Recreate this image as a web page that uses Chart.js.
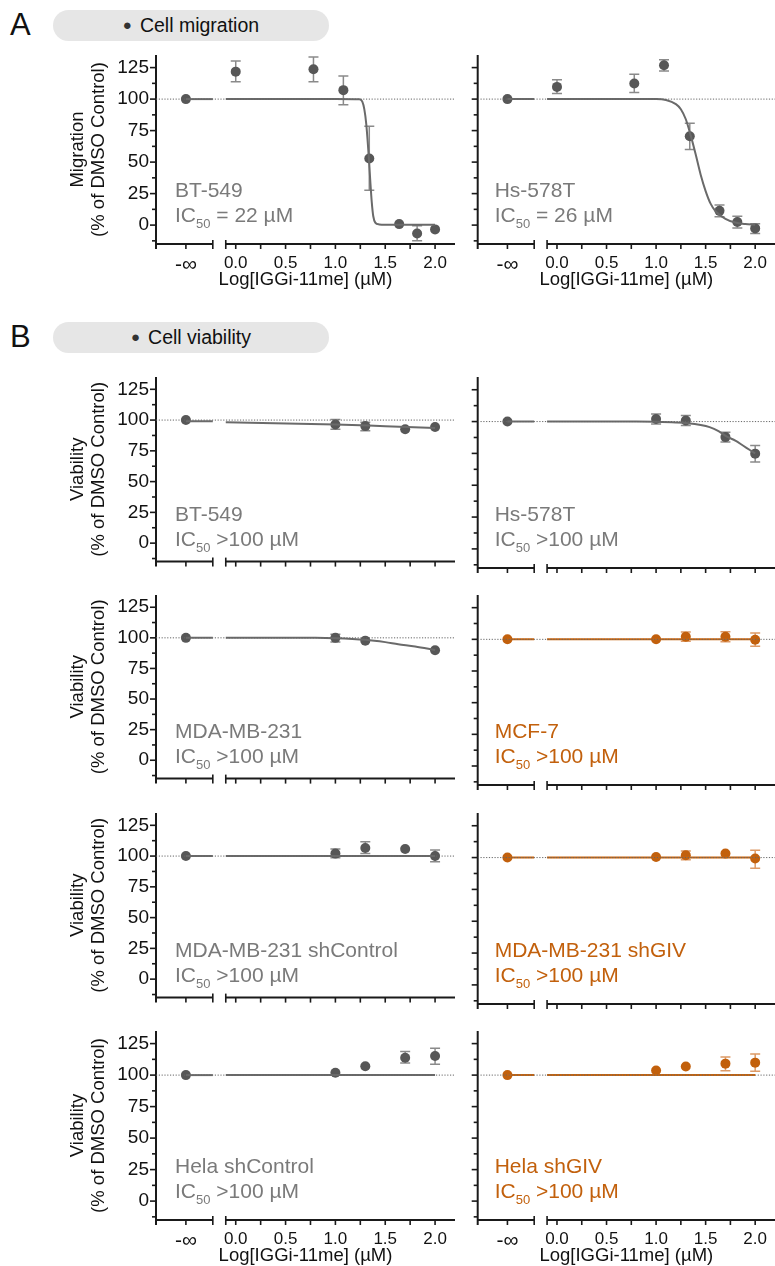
<!DOCTYPE html>
<html>
<head>
<meta charset="utf-8">
<script src="https://cdn.jsdelivr.net/npm/chart.js@4.4.1/dist/chart.umd.min.js"></script>
<style>
  html, body { margin: 0; padding: 0; background: #fff; }
  #page { position: relative; width: 775px; height: 1266px; overflow: hidden; font-family: "Liberation Sans", Arial, sans-serif; }
  #page canvas { position: absolute; }
  .tag { position: absolute; left: 10px; font-size: 31px; line-height: 34px; color: #111; }
  .pill { position: absolute; left: 53px; width: 276px; height: 31px; border-radius: 16px; background: #e6e6e6;
          font-size: 19.5px; line-height: 31px; text-align: center; color: #111; }
  .pill .dot { font-size: 15px; margin-right: 8px; position: relative; top: -2px; color: #333; }
  .cell { position: absolute; font-size: 21px; line-height: 25px; color: #7a7a7a; white-space: nowrap; }
  .cell.orange { color: #c2600c; }
  .cell .sub { font-size: 13px; position: relative; top: 6px; }
</style>
</head>
<body>
<div id="page">
  <div class="tag" style="top:8px">A</div>
  <div class="pill" style="top:10px"><span class="dot">●</span>Cell migration</div>
  <div class="tag" style="top:320px">B</div>
  <div class="pill" style="top:322px"><span class="dot">●</span>Cell viability</div>
</div>
<script>
// --- AXES ---
const X_MIN = -0.8;
const X_MAX = 2.2;
const NEG_INF_AT = -0.5;          // where the "-∞" dose sits on the x axis
const X_SEGMENTS = [[-0.8, -0.23], [-0.1, 2.2]];
const xLabelTicks = [-0.5, 0, 0.5, 1, 1.5, 2];
const xMinorTicks = [0.25, 0.75, 1.25, 1.75];
const Y_MIN = -15;
const Y_MAX = 135;
const yMajorTicks = [0, 25, 50, 75, 100, 125];
const yMinorTicks = [-12.5, 12.5, 37.5, 62.5, 87.5, 112.5];
const REF_LEVEL = 100;

// --- DOSES (log µM) ---
const migDoses = [-Infinity, 0.0, 0.78, 1.08, 1.34, 1.64, 1.82, 2.0];
const viaDoses = [-Infinity, 1.0, 1.3, 1.7, 2.0];

// --- A: migration ---
const bt549Mig   = [100, 121.8, 123.7, 107.1, 52.9, 0.8, -6.6, -3.4];
const bt549MigLo = [null, 113.7, 113.7, 95.5, 27.6, null, -12.4, null];
const bt549MigHi = [null, 130.3, 133.4, 118.4, 78.4, null, -0.5, null];
const bt549MigFitX = [-0.1, 1.0, 1.24, 1.27, 1.29, 1.31, 1.336, 1.35, 1.365, 1.38, 1.4, 1.44, 1.5, 2.0];
const bt549MigFitY = [100, 100, 99.8, 98, 92, 80, 53, 35, 18, 7, 2, 0.5, 0.2, 0.2];

const hs578tMig   = [100, 109.7, 112.4, 126.8, 70.5, 11.3, 2.4, -2.6];
const hs578tMigLo = [null, 104.5, 105.3, 122.4, 60, 6.6, -2.4, -6.6];
const hs578tMigHi = [null, 115.3, 119.7, 131.3, 80.8, 16, 7.1, 1];
const hs578tMigFitX = [-0.1, 1.0, 1.1, 1.2, 1.25, 1.3, 1.35, 1.4, 1.45, 1.5, 1.55, 1.6, 1.7, 1.8, 1.9, 2.0];
const hs578tMigFitY = [100, 100, 99.3, 96, 92, 84, 71, 56, 40, 27, 17, 11, 5, 2, 0.8, 0.3];

// --- B: viability ---
const bt549Via   = [100, 96.4, 95.1, 92.5, 94.3];
const bt549ViaLo = [null, 92.5, 91.4, null, null];
const bt549ViaHi = [null, 100.5, 98.2, null, null];
const bt549ViaFitX = [-0.1, 1.0, 1.5, 2.0];
const bt549ViaFitY = [98.2, 96.5, 95, 93.5];

const hs578tVia   = [100, 102, 100.8, 87.8, 74.8];
const hs578tViaLo = [null, 98, 96.9, 84, 68.3];
const hs578tViaHi = [null, 106, 104.7, 91.7, 81.3];
const hs578tViaFitX = [-0.1, 0.8, 1.0, 1.2, 1.32, 1.45, 1.54, 1.63, 1.72, 1.8, 1.88, 1.95, 2.0];
const hs578tViaFitY = [100, 100, 99.8, 99.3, 98.7, 97.3, 95.6, 92.5, 88, 85, 81, 77.5, 75];

const mda231Via   = [100, 100, 97.7, null, 89.9];
const mda231ViaLo = [null, 96.6, null, null, null];
const mda231ViaHi = [null, 103, null, null, null];
const mda231ViaFitX = [-0.1, 0.8, 1.0, 1.3, 1.5, 1.63, 1.8, 2.0];
const mda231ViaFitY = [100, 100, 99.7, 98.4, 96.5, 94.8, 93, 90];

const mcf7Via   = [100, 100, 102, 102, 99.7];
const mcf7ViaLo = [null, null, 98.4, 98, 94.6];
const mcf7ViaHi = [null, null, 105.7, 106, 105];

const mdaShCtrlVia   = [100, 102, 106.5, 105.7, 100];
const mdaShCtrlViaLo = [null, 98.7, 102, null, 95.3];
const mdaShCtrlViaHi = [null, 105.7, 111.7, null, 105];

const mdaShGivVia   = [100, 100.5, 101.8, 103.1, 99.2];
const mdaShGivViaLo = [null, null, 98.2, null, 91.7];
const mdaShGivViaHi = [null, null, 105.2, null, 105.7];

const helaShCtrlVia   = [100, 101.8, 107, 113.8, 115.1];
const helaShCtrlViaLo = [null, null, null, 109.7, 108.6];
const helaShCtrlViaHi = [null, null, null, 118.8, 121.4];

const helaShGivVia   = [100, 103.7, 106.8, 109.1, 109.9];
const helaShGivViaLo = [null, null, null, 103.4, 103.1];
const helaShGivViaHi = [null, null, null, 114.4, 116.7];

const flatFitX = [-0.1, 2.0];
const flatFitY = [100, 100];

// --- STYLE ---
const FONT = '"Liberation Sans", Arial, sans-serif';
const GRAY = { point: "#575757", line: "#6a6a6a", err: "#8a8a8a" };
const ORANGE = { point: "#c2600c", line: "#c8650f", err: "#dd9a66" };
const AXIS_COLOR = "#1a1a1a";

// row: [plot top, plot bottom] in page pixels
const rowBounds = [[55, 244], [377, 568], [595, 785], [813, 1004], [1031, 1220]];
const colLeft = [0, 380];         // canvas left
const colYAxisWidth = [156, 97.7];
const colCanvasWidth = [460, 400];
const PAD_TOP = 30;

const panels = [
  { row: 0, col: 0, yTitle: "Migration", doses: migDoses, y: bt549Mig, lo: bt549MigLo, hi: bt549MigHi, fitX: bt549MigFitX, fitY: bt549MigFitY, infFit: 100, c: GRAY, name: "BT-549", ic: "= 22 µM" },
  { row: 0, col: 1, doses: migDoses, y: hs578tMig, lo: hs578tMigLo, hi: hs578tMigHi, fitX: hs578tMigFitX, fitY: hs578tMigFitY, infFit: 100, c: GRAY, name: "Hs-578T", ic: "= 26 µM" },
  { row: 1, col: 0, yTitle: "Viability", doses: viaDoses, y: bt549Via, lo: bt549ViaLo, hi: bt549ViaHi, fitX: bt549ViaFitX, fitY: bt549ViaFitY, infFit: 99, c: GRAY, name: "BT-549", ic: ">100 µM" },
  { row: 1, col: 1, doses: viaDoses, y: hs578tVia, lo: hs578tViaLo, hi: hs578tViaHi, fitX: hs578tViaFitX, fitY: hs578tViaFitY, infFit: 100, c: GRAY, name: "Hs-578T", ic: ">100 µM" },
  { row: 2, col: 0, yTitle: "Viability", doses: viaDoses, y: mda231Via, lo: mda231ViaLo, hi: mda231ViaHi, fitX: mda231ViaFitX, fitY: mda231ViaFitY, infFit: 100, c: GRAY, name: "MDA-MB-231", ic: ">100 µM" },
  { row: 2, col: 1, doses: viaDoses, y: mcf7Via, lo: mcf7ViaLo, hi: mcf7ViaHi, fitX: flatFitX, fitY: flatFitY, infFit: 100, c: ORANGE, name: "MCF-7", ic: ">100 µM" },
  { row: 3, col: 0, yTitle: "Viability", doses: viaDoses, y: mdaShCtrlVia, lo: mdaShCtrlViaLo, hi: mdaShCtrlViaHi, fitX: flatFitX, fitY: flatFitY, infFit: 100, c: GRAY, name: "MDA-MB-231 shControl", ic: ">100 µM" },
  { row: 3, col: 1, doses: viaDoses, y: mdaShGivVia, lo: mdaShGivViaLo, hi: mdaShGivViaHi, fitX: flatFitX, fitY: flatFitY, infFit: 100, c: ORANGE, name: "MDA-MB-231 shGIV", ic: ">100 µM" },
  { row: 4, col: 0, yTitle: "Viability", doses: viaDoses, y: helaShCtrlVia, lo: helaShCtrlViaLo, hi: helaShCtrlViaHi, fitX: flatFitX, fitY: flatFitY, infFit: 100, c: GRAY, name: "Hela shControl", ic: ">100 µM" },
  { row: 4, col: 1, doses: viaDoses, y: helaShGivVia, lo: helaShGivViaLo, hi: helaShGivViaHi, fitX: flatFitX, fitY: flatFitY, infFit: 100, c: ORANGE, name: "Hela shGIV", ic: ">100 µM" },
];
const labelledRows = [0, 4];

const doseToAxis = (d) => (d === -Infinity ? NEG_INF_AT : d);

// --- PLUGINS ---
const brokenAxes = {
  id: "brokenAxes",
  beforeDatasetsDraw(chart) {
    const { ctx, chartArea: a, scales: { x, y } } = chart;
    const line = (x1, y1, x2, y2) => { ctx.beginPath(); ctx.moveTo(x1, y1); ctx.lineTo(x2, y2); ctx.stroke(); };
    ctx.save();
    ctx.strokeStyle = AXIS_COLOR;
    ctx.lineWidth = 2;
    line(a.left, a.top, a.left, a.bottom + 5);
    X_SEGMENTS.forEach(([s, e]) => line(x.getPixelForValue(s), a.bottom, x.getPixelForValue(e), a.bottom));
    ctx.lineWidth = 1.6;
    yMajorTicks.forEach((v) => line(a.left - 6, y.getPixelForValue(v), a.left, y.getPixelForValue(v)));
    yMinorTicks.forEach((v) => line(a.left - 4, y.getPixelForValue(v), a.left, y.getPixelForValue(v)));
    xLabelTicks.concat(xMinorTicks).forEach((v) => line(x.getPixelForValue(v), a.bottom, x.getPixelForValue(v), a.bottom + 5));
    // break marks
    line(x.getPixelForValue(X_SEGMENTS[0][1]), a.bottom - 4, x.getPixelForValue(X_SEGMENTS[0][1]), a.bottom + 5);
    line(x.getPixelForValue(X_SEGMENTS[1][0]), a.bottom - 4, x.getPixelForValue(X_SEGMENTS[1][0]), a.bottom + 5);
    ctx.restore();
  },
};

const errorBars = {
  id: "errorBars",
  beforeDatasetDraw(chart, args) {
    const ds = chart.data.datasets[args.index];
    if (!ds.errLo) return;
    const { ctx, scales: { x, y } } = chart;
    ctx.save();
    ctx.strokeStyle = ds.errColor;
    ctx.lineWidth = 1.5;
    ds.data.forEach((pt, i) => {
      if (ds.errLo[i] == null) return;
      const px = x.getPixelForValue(pt.x);
      const yl = y.getPixelForValue(ds.errLo[i]);
      const yh = y.getPixelForValue(ds.errHi[i]);
      ctx.beginPath();
      ctx.moveTo(px, yl); ctx.lineTo(px, yh);
      ctx.moveTo(px - 5, yl); ctx.lineTo(px + 5, yl);
      ctx.moveTo(px - 5, yh); ctx.lineTo(px + 5, yh);
      ctx.stroke();
    });
    ctx.restore();
  },
};

// --- BUILD ---
function buildPanel(p) {
  const page = document.getElementById("page");
  const [plotTop, plotBottom] = rowBounds[p.row];
  const labelled = labelledRows.includes(p.row);
  const xH = labelled ? 50 : 12;
  const canvas = document.createElement("canvas");
  canvas.width = colCanvasWidth[p.col];
  canvas.height = PAD_TOP + (plotBottom - plotTop) + xH;
  canvas.style.left = colLeft[p.col] + "px";
  canvas.style.top = plotTop - PAD_TOP + "px";
  page.appendChild(canvas);

  const points = [];
  const lo = [];
  const hi = [];
  p.doses.forEach((d, i) => {
    if (p.y[i] == null) return;
    points.push({ x: doseToAxis(d), y: p.y[i] });
    lo.push(p.lo[i]);
    hi.push(p.hi[i]);
  });

  const datasets = [
    {
      data: [{ x: X_MIN, y: REF_LEVEL }, { x: X_MAX, y: REF_LEVEL }],
      showLine: true, pointRadius: 0, borderColor: "#666", borderWidth: 1, borderDash: [1.2, 1.6],
    },
    {
      data: [{ x: NEG_INF_AT, y: p.infFit }, { x: X_SEGMENTS[0][1], y: p.infFit }],
      showLine: true, pointRadius: 0, borderColor: p.c.line, borderWidth: 2,
    },
    {
      data: p.fitX.map((v, i) => ({ x: v, y: p.fitY[i] })),
      showLine: true, pointRadius: 0, borderColor: p.c.line, borderWidth: 2, cubicInterpolationMode: "monotone",
    },
    {
      data: points, pointRadius: 5, pointBackgroundColor: p.c.point, pointBorderWidth: 0,
      errLo: lo, errHi: hi, errColor: p.c.err,
    },
  ];

  new Chart(canvas, {
    type: "scatter",
    data: { datasets },
    options: {
      responsive: false,
      animation: false,
      devicePixelRatio: 1,
      layout: { padding: { top: PAD_TOP, left: 0, bottom: 0, right: colCanvasWidth[p.col] - colYAxisWidth[p.col] - 301.5 } },
      plugins: { legend: { display: false }, tooltip: { enabled: false } },
      scales: {
        x: {
          type: "linear", min: X_MIN, max: X_MAX,
          grid: { display: false, drawTicks: false, tickLength: 0 },
          border: { display: false },
          afterBuildTicks: (s) => { s.ticks = xLabelTicks.map((v) => ({ value: v })); },
          afterFit: (s) => { s.height = xH; },
          ticks: {
            display: labelled, padding: 9, color: "#111", autoSkip: false, maxRotation: 0,
            font: (c) => ({ family: FONT, size: c.tick && c.tick.value === NEG_INF_AT ? 21 : 17 }),
            callback: (v) => (v === NEG_INF_AT ? "-∞" : v.toFixed(1)),
          },
          title: {
            display: labelled, text: "Log[IGGi-11me] (µM)", color: "#111",
            font: { family: FONT, size: 18.5 }, padding: { top: 0, bottom: 3 },
          },
        },
        y: {
          type: "linear", min: Y_MIN, max: Y_MAX,
          grid: { display: false, drawTicks: false, tickLength: 0 },
          border: { display: false },
          afterBuildTicks: (s) => { s.ticks = yMajorTicks.map((v) => ({ value: v })); },
          afterFit: (s) => { s.width = colYAxisWidth[p.col]; },
          ticks: { display: p.col === 0, padding: 7, color: "#111", font: { family: FONT, size: 19 } },
          title: {
            display: p.col === 0, text: [p.yTitle, "(% of DMSO Control)"], color: "#111",
            font: { family: FONT, size: 18.5, lineHeight: 1.15 }, padding: { top: 67.4, bottom: 0 },
          },
        },
      },
    },
    plugins: [brokenAxes, errorBars],
  });

  const cell = document.createElement("div");
  cell.className = "cell" + (p.c === ORANGE ? " orange" : "");
  cell.style.left = colLeft[p.col] + colYAxisWidth[p.col] + (p.col === 0 ? 19 : 17) + "px";
  cell.style.top = plotBottom - 67 + "px";
  cell.innerHTML = `${p.name}<br>IC<span class="sub">50</span> ${p.ic}`;
  page.appendChild(cell);
}

panels.forEach(buildPanel);
</script>
</body>
</html>
